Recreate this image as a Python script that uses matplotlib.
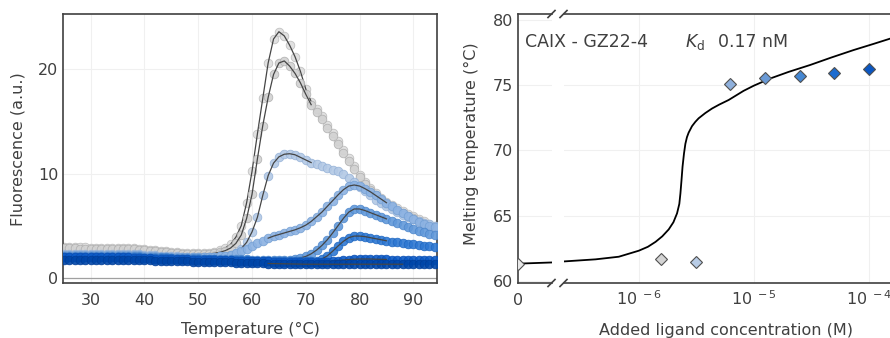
import matplotlib.pyplot as plt
from matplotlib.lines import Line2D
from matplotlib.ticker import NullLocator

plt.rcParams['font.family'] = 'DejaVu Sans'

# ---------------- melting curves (left panel), 25..94 C ----------------
temps = list(range(25, 95))

f_c0 = [3.0, 3.0, 2.95, 2.95, 2.95, 2.9, 2.9, 2.9, 2.9, 2.9, 2.9, 2.9, 2.9, 2.85, 2.8, 2.75, 2.7, 2.65, 2.6, 2.55,
        2.5, 2.45, 2.4, 2.4, 2.35, 2.35, 2.35, 2.4, 2.5, 2.65, 2.85, 3.2, 3.9, 5.0, 7.2, 10.2, 13.8, 17.2, 20.6, 22.9,
        23.6, 23.2, 22.3, 21.2, 19.8, 18.1, 16.9, 16.2, 15.5, 14.7, 13.9, 13.1, 12.3, 11.5, 10.7, 9.9, 9.2, 8.6, 8.1, 7.7,
        7.3, 6.95, 6.65, 6.4, 6.15, 5.9, 5.65, 5.4, 5.2, 5.0]
f_c1 = [2.85, 2.85, 2.85, 2.8, 2.8, 2.8, 2.8, 2.8, 2.8, 2.8, 2.8, 2.8, 2.8, 2.75, 2.7, 2.65, 2.6, 2.55, 2.5, 2.45,
        2.4, 2.35, 2.3, 2.3, 2.25, 2.25, 2.25, 2.3, 2.35, 2.45, 2.6, 2.85, 3.3, 4.1, 5.7, 8.0, 11.4, 14.6, 17.3, 19.5,
        20.6, 20.8, 20.3, 19.6, 18.7, 17.6, 16.6, 15.9, 15.2, 14.4, 13.6, 12.8, 12.0, 11.2, 10.4, 9.7, 9.0, 8.4, 7.9, 7.5,
        7.1, 6.75, 6.45, 6.2, 5.95, 5.7, 5.45, 5.2, 5.0, 4.8]
f_c2 = [2.3, 2.3, 2.3, 2.3, 2.3, 2.3, 2.3, 2.3, 2.3, 2.3, 2.3, 2.3, 2.3, 2.25, 2.25, 2.2, 2.2, 2.15, 2.1, 2.1,
        2.05, 2.05, 2.0, 2.0, 2.0, 2.0, 2.0, 2.0, 2.0, 2.05, 2.1, 2.2, 2.4, 2.8, 3.4, 4.4, 5.8, 7.9, 9.8, 11.0,
        11.6, 11.85, 11.9, 11.8, 11.55, 11.3, 11.05, 10.9, 10.7, 10.5, 10.35, 10.2, 9.95, 9.6, 9.15, 8.7, 8.3, 7.9, 7.5, 7.2,
        6.9, 6.6, 6.3, 6.05, 5.85, 5.65, 5.45, 5.3, 5.15, 5.0]
f_c3 = [2.2, 2.2, 2.2, 2.2, 2.2, 2.2, 2.2, 2.2, 2.2, 2.2, 2.2, 2.2, 2.2, 2.17, 2.14, 2.11, 2.08, 2.05, 2.02, 2.0,
        1.98, 1.96, 1.95, 1.95, 1.95, 1.95, 1.95, 1.97, 2.0, 2.05, 2.1, 2.2, 2.35, 2.55, 2.8, 3.05, 3.3, 3.55, 3.8, 4.0,
        4.15, 4.3, 4.45, 4.6, 4.8, 5.05, 5.4, 5.85, 6.3, 6.85, 7.4, 7.95, 8.45, 8.8, 8.9, 8.8, 8.55, 8.25, 7.9, 7.55,
        7.2, 6.85, 6.5, 6.2, 5.9, 5.6, 5.35, 5.15, 5.0, 4.85]
f_c4 = [2.1, 2.1, 2.1, 2.1, 2.1, 2.1, 2.1, 2.1, 2.1, 2.1, 2.1, 2.1, 2.1, 2.08, 2.06, 2.04, 2.02, 2.0, 1.98, 1.96,
        1.94, 1.92, 1.9, 1.88, 1.86, 1.85, 1.84, 1.83, 1.82, 1.81, 1.8, 1.79, 1.78, 1.77, 1.76, 1.75, 1.74, 1.73, 1.72, 1.71,
        1.7, 1.7, 1.75, 1.8, 1.9, 2.05, 2.3, 2.65, 3.1, 3.65, 4.3, 5.0, 5.7, 6.3, 6.6, 6.6, 6.45, 6.25, 6.05, 5.85,
        5.65, 5.45, 5.25, 5.05, 4.85, 4.7, 4.5, 4.35, 4.2, 4.1]
f_c5 = [2.0, 2.0, 2.0, 2.0, 2.0, 2.0, 2.0, 2.0, 2.0, 2.0, 2.0, 2.0, 2.0, 1.98, 1.96, 1.94, 1.92, 1.9, 1.88, 1.86,
        1.85, 1.84, 1.83, 1.82, 1.81, 1.8, 1.79, 1.78, 1.76, 1.75, 1.74, 1.72, 1.7, 1.68, 1.66, 1.65, 1.64, 1.63, 1.62, 1.62,
        1.61, 1.61, 1.6, 1.6, 1.6, 1.6, 1.6, 1.65, 1.8, 2.1, 2.55, 3.05, 3.5, 3.85, 4.0, 4.0, 3.95, 3.85, 3.75, 3.65,
        3.55, 3.48, 3.4, 3.33, 3.26, 3.2, 3.13, 3.07, 3.02, 2.97]
f_c6 = [1.95, 1.95, 1.95, 1.95, 1.95, 1.95, 1.95, 1.95, 1.95, 1.95, 1.95, 1.95, 1.95, 1.93, 1.9, 1.88, 1.86, 1.84, 1.82, 1.8,
        1.79, 1.78, 1.77, 1.76, 1.75, 1.74, 1.73, 1.72, 1.7, 1.69, 1.68, 1.66, 1.65, 1.63, 1.62, 1.6, 1.59, 1.58, 1.57, 1.56,
        1.55, 1.54, 1.53, 1.52, 1.51, 1.5, 1.5, 1.5, 1.52, 1.55, 1.6, 1.65, 1.7, 1.75, 1.78, 1.8, 1.8, 1.8, 1.78, 1.77,
        1.76, 1.75, 1.75, 1.75, 1.75, 1.75, 1.75, 1.75, 1.75, 1.75]
f_c7 = [1.75, 1.75, 1.75, 1.75, 1.75, 1.75, 1.75, 1.75, 1.75, 1.75, 1.75, 1.75, 1.75, 1.73, 1.71, 1.69, 1.67, 1.65, 1.63, 1.61,
        1.6, 1.59, 1.58, 1.57, 1.56, 1.55, 1.54, 1.53, 1.52, 1.5, 1.49, 1.47, 1.45, 1.43, 1.42, 1.4, 1.39, 1.38, 1.37, 1.36,
        1.35, 1.34, 1.33, 1.32, 1.31, 1.3, 1.3, 1.3, 1.3, 1.3, 1.3, 1.3, 1.3, 1.3, 1.3, 1.3, 1.3, 1.3, 1.3, 1.3,
        1.3, 1.3, 1.3, 1.3, 1.3, 1.3, 1.3, 1.3, 1.3, 1.3]

curves = [f_c0, f_c1, f_c2, f_c3, f_c4, f_c5, f_c6, f_c7]
# temperature window of the fitted line drawn over each curve
fit_windows = [(50, 71), (50, 71), (58, 71), (63, 85), (67, 85), (71, 85), (67, 85), (63, 88)]

face_cols = ['#dedede', '#d2d2d2', '#b3c9e5', '#8cb2e2', '#6299da', '#2e78d2', '#0b5ac6', '#0046a8']
edge_cols = ['#bdbdbd', '#b0b0b0', '#97b3d8', '#75a0d4', '#4f88cc', '#2169c2', '#0a4eb4', '#003d98']

# ---------------- Tm vs concentration (right panel) ----------------
conc = [1.5625e-6, 3.125e-6, 6.25e-6, 1.25e-5, 2.5e-5, 5e-5, 1e-4]
tm = [61.7, 61.45, 75.1, 75.55, 75.7, 75.95, 76.25]
tm_zero = 61.3   # no ligand added
diamond_cols = ['#d4d4d4', '#b8cce6', '#8fb0dc', '#6a9ad6', '#4587d2', '#1c6cd0', '#0a56c2']

fit_conc = [2.24e-7, 4.22e-7, 6.71e-7, 1.0e-6, 1.2e-6, 1.40e-6, 1.6e-6, 1.82e-6, 2.0e-6, 2.15e-6, 2.25e-6,
            2.30e-6, 2.35e-6, 2.40e-6, 2.47e-6, 2.54e-6, 2.62e-6, 2.71e-6, 2.90e-6, 3.1e-6, 3.31e-6, 3.78e-6,
            4.33e-6, 5.0e-6, 6.03e-6, 8.13e-6, 1.0e-5, 1.39e-5, 2.0e-5, 3.08e-5, 4.7e-5, 7.33e-5, 1.1e-4,
            1.53e-4, 1.70e-4]
fit_tm = [61.5, 61.66, 61.86, 62.32, 62.62, 63.0, 63.42, 63.95, 64.5, 65.18, 65.9,
          66.7, 67.7, 68.75, 69.75, 70.5, 71.0, 71.35, 71.85, 72.18, 72.45, 72.85,
          73.2, 73.5, 73.85, 74.55, 74.95, 75.5, 76.0, 76.53, 77.1, 77.67, 78.15,
          78.55, 78.72]
fit_tm_zero = [61.33, 61.42]

txt = '#404040'
W, H = 890, 338
fig = plt.figure(figsize=(8.9, 3.38), dpi=100)

def box(x0, y0, x1, y1):
    return [x0 / W, 1 - y1 / H, (x1 - x0) / W, (y1 - y0) / H]

# ---- left panel ----
ax = fig.add_axes(box(63, 14, 437, 283))
for i, f in enumerate(curves):
    ax.plot(temps, f, 'o', ms=6.2, mfc=face_cols[i], mec=edge_cols[i], mew=0.6, alpha=0.9, zorder=2 + i)
    a, b = fit_windows[i]
    ax.plot(temps[a - 25:b - 25 + 1], f[a - 25:b - 25 + 1], color='#454545', lw=0.9, zorder=2.5 + i)
ax.axhline(0, color='#a0a0a0', lw=0.9, zorder=1)
ax.set_xlim(24.85, 94.4)
ax.set_ylim(-0.5, 25.3)
ax.set_xticks([30, 40, 50, 60, 70, 80, 90])
ax.set_yticks([0, 10, 20])
ax.grid(True, color='#f0f0f0', lw=0.8)
ax.set_axisbelow(True)
ax.tick_params(length=0, labelsize=11.5, colors=txt)
ax.tick_params(axis='x', pad=15.8)
ax.tick_params(axis='y', pad=3.5)
for lbl in ax.get_xticklabels():
    lbl.set_va('baseline')
for s in ax.spines.values():
    s.set_color('#404040')
    s.set_linewidth(1.2)
fig.text(250 / W, 1 - 329 / H, 'Temperature (°C)', ha='center', va='center', fontsize=11.5, color=txt)
fig.text(18 / W, 1 - 149 / H, 'Fluorescence (a.u.)', ha='center', va='center', rotation=90, fontsize=11.5, color=txt)

# ---- right panel, broken x axis ----
ax0 = fig.add_axes(box(517.7, 14, 551.5, 283))
ax1 = fig.add_axes(box(563.5, 14, 895, 283))
for a_ in (ax0, ax1):
    a_.set_ylim(59.85, 80.43)
    a_.spines['right'].set_visible(False)
    for s in a_.spines.values():
        s.set_color('#404040')
        s.set_linewidth(1.2)
    a_.tick_params(length=0, labelsize=11.5, colors=txt)
    a_.tick_params(axis='x', pad=15.8)
    a_.grid(True, axis='y', color='#f0f0f0', lw=0.8)
    a_.set_axisbelow(True)
ax1.spines['left'].set_visible(False)

ax0.set_xlim(0, 1)
ax0.set_xticks([0])
ax0.set_xticklabels(['0'])
ax0.set_yticks([60, 65, 70, 75, 80])
ax0.tick_params(axis='y', pad=3.2)
ax0.plot([0, 1], fit_tm_zero, color='black', lw=1.3, zorder=3)
ax0.plot([0], [tm_zero], 'D', ms=6.2, mfc='#e8e8e8', mec='#505050', mew=0.8, zorder=4)

ax1.set_xscale('log')
ax1.set_xlim(2.22e-7, 1.68e-4)
ax1.set_xticks([1e-6, 1e-5, 1e-4])
ax1.set_xticklabels([r'$10^{\ -6}$', r'$10^{\ -5}$', r'$10^{\ -4}$'])
ax1.xaxis.set_minor_locator(NullLocator())
ax1.set_yticks([65, 70, 75])
ax1.tick_params(axis='y', labelleft=False)
ax1.grid(True, axis='x', color='#f0f0f0', lw=0.8)
ax1.plot(fit_conc, fit_tm, color='black', lw=1.3, zorder=3)
for c, t, col in zip(conc, tm, diamond_cols):
    ax1.plot([c], [t], 'D', ms=6.2, mfc=col, mec='#505050', mew=0.8, zorder=4)
for a_ in (ax0, ax1):
    for lbl in a_.get_xticklabels():
        lbl.set_va('baseline')

# break marks
for cx in (551.5, 563.5):
    for cy in (14, 283):
        fig.add_artist(Line2D([(cx - 3.5) / W, (cx + 3.5) / W], [1 - (cy + 3.5) / H, 1 - (cy - 3.5) / H],
                              color='#404040', lw=1.2))

fig.text(525 / W, 1 - 42 / H, 'CAIX - GZ22-4', ha='left', va='center', fontsize=12.5, color=txt)
fig.text(685 / W, 1 - 42 / H, r'$K_\mathrm{d}$', ha='left', va='center', fontsize=12.5, color=txt)
fig.text(718 / W, 1 - 42 / H, '0.17 nM', ha='left', va='center', fontsize=12.5, color=txt)
fig.text(726 / W, 1 - 330 / H, 'Added ligand concentration (M)', ha='center', va='center', fontsize=11.5, color=txt)
fig.text(471.7 / W, 1 - 144 / H, 'Melting temperature (°C)', ha='center', va='center', rotation=90,
         fontsize=11.5, color=txt)

fig.savefig('out.png', dpi=100)
